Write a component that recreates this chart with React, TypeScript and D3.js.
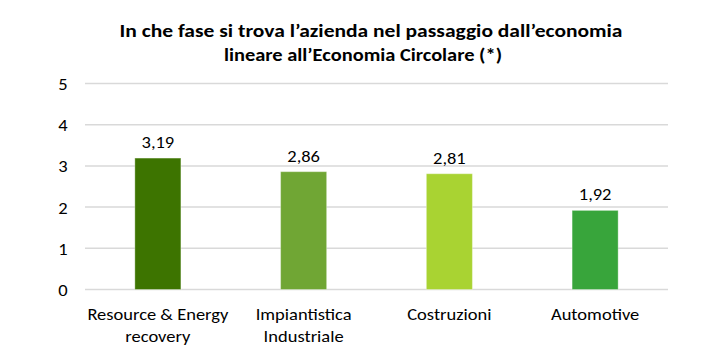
import React from "react";
import * as d3 from "d3";

const categories: string[][] = [
  ["Resource & Energy", "recovery"],
  ["Impiantistica", "Industriale"],
  ["Costruzioni"],
  ["Automotive"],
];
const values: number[] = [3.19, 2.86, 2.81, 1.92];
const barColors: string[] = ["#3D7400", "#70A634", "#A9D332", "#38A53B"];
const yTicks: number[] = [0, 1, 2, 3, 4, 5];
const titleLines: string[] = [
  "In che fase si trova l\u2019azienda nel passaggio dall\u2019economia",
  "lineare all\u2019Economia Circolare (*)",
];

const W = 701;
const H = 354;
const FONT = "Carlito, Calibri, Lato, 'Liberation Sans', Arial, sans-serif";

export default function App() {
  const left = 85;
  const right = 668;
  const top = 83.5;
  const bottom = 289.5;

  const x = d3
    .scaleBand<number>()
    .domain(values.map((_, i) => i))
    .range([left, right])
    .padding(0);
  const y = d3.scaleLinear().domain([0, 5]).range([bottom, top]);
  const barW = x.bandwidth() * 0.316;
  const fmt = (v: number) => v.toFixed(2).replace(".", ",");

  return (
    <svg
      width={W}
      height={H}
      style={{ position: "absolute", left: 0, top: 0, background: "#fff" }}
      fontFamily={FONT}
    >
      <rect x={0} y={0} width={W} height={H} fill="#fff" />
      <text x={371} y={37} textAnchor="middle" fontSize={18.5} fontWeight="bold" fill="#000" textLength={503} lengthAdjust="spacingAndGlyphs">
        {titleLines[0]}
      </text>
      <text x={363} y={60.5} textAnchor="middle" fontSize={18.5} fontWeight="bold" fill="#000" textLength={278} lengthAdjust="spacingAndGlyphs">
        {titleLines[1]}
      </text>
      {yTicks.map((t) => (
        <g key={t}>
          <line x1={left} x2={right} y1={y(t)} y2={y(t)} stroke="#D9D9D9" strokeWidth={1.5} />
          <text
            transform={`translate(63,${y(t) + 6.5}) scale(1,0.92)`}
            textAnchor="middle"
            fontSize={18.5}
            fill="#000"
          >
            {t}
          </text>
        </g>
      ))}
      {values.map((v, i) => {
        const cx = (x(i) as number) + x.bandwidth() / 2;
        return (
          <g key={i}>
            <rect
              x={cx - barW / 2}
              y={y(v)}
              width={barW}
              height={y(0) - y(v)}
              fill={barColors[i]}
              stroke="#ffffff"
              strokeOpacity={0.35}
              strokeWidth={1}
            />
            <text
              transform={`translate(${cx},${y(v) - 10}) scale(1,0.9)`}
              textAnchor="middle"
              fontSize={18.5}
              fill="#000"
            >
              {fmt(v)}
            </text>
            {categories[i].map((line, j) => (
              <text
                key={j}
                transform={`translate(${cx},${320 + j * 22}) scale(1,0.92)`}
                textAnchor="middle"
                fontSize={18.5}
                fill="#000"
              >
                {line}
              </text>
            ))}
          </g>
        );
      })}
    </svg>
  );
}
